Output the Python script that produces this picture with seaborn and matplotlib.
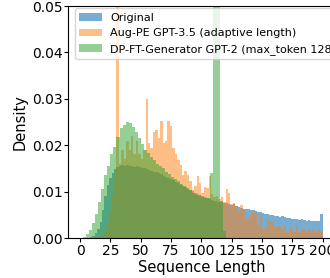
import numpy as np
import pandas as pd
import seaborn as sns
import matplotlib.pyplot as plt

# densidades (largura de bin em unidades de comprimento)
original_width = 2.0
original_density = [
    0, 0, 0, 0.0001, 0.0002, 0.0005, 0.001, 0.002, 0.0035, 0.006,
    0.009, 0.0115, 0.013, 0.014, 0.0148, 0.0153, 0.0156, 0.0157, 0.0156, 0.0157,
    0.0155, 0.0156, 0.0154, 0.0155, 0.0152, 0.0151, 0.015, 0.0148, 0.0147, 0.0145,
    0.0143, 0.0142, 0.014, 0.0137, 0.0134, 0.0132, 0.013, 0.0127, 0.0124, 0.0121,
    0.0118, 0.0115, 0.0112, 0.0109, 0.0106, 0.0104, 0.0101, 0.0098, 0.0095, 0.0092,
    0.009, 0.0088, 0.0086, 0.0084, 0.0082, 0.008, 0.0079, 0.0078, 0.0077, 0.0076,
    0.0075, 0.0073, 0.0072, 0.0073, 0.0068, 0.0066, 0.0064, 0.0063, 0.0062, 0.0062,
    0.006, 0.0061, 0.0058, 0.0056, 0.0057, 0.0054, 0.0052, 0.0052, 0.005, 0.0049,
    0.0048, 0.0048, 0.0046, 0.0047, 0.0045, 0.0044, 0.0044, 0.0042, 0.004, 0.0041,
    0.0039, 0.004, 0.0038, 0.0037, 0.0038, 0.0036, 0.0037, 0.0037, 0.0036, 0.0052,
]

augpe_width = 2.0
augpe_density = [
    0, 0, 0, 0, 0, 0, 0, 0.0001, 0.0003, 0.0007,
    0.0015, 0.003, 0.0055, 0.009, 0.013, 0.058, 0.016, 0.019, 0.017, 0.021,
    0.019, 0.022, 0.018, 0.021, 0.018, 0.017, 0.019, 0.030, 0.0205, 0.0195,
    0.0228, 0.0232, 0.0215, 0.0252, 0.0205, 0.021, 0.0252, 0.0242, 0.0195, 0.018,
    0.0169, 0.0158, 0.0136, 0.0145, 0.0136, 0.0123, 0.0104, 0.0112, 0.0134, 0.0118,
    0.0098, 0.011, 0.0107, 0.0134, 0.0095, 0.0088, 0.009, 0.0085, 0.0088, 0.0078,
    0.0106, 0.0097, 0.0073, 0.0075, 0.0068, 0.0055, 0.0071, 0.0062, 0.0041, 0.0043,
    0.005, 0.0057, 0.0053, 0.0027, 0.005, 0.0019, 0.0021, 0.004, 0.0035, 0.0035,
    0.0021, 0.0025, 0.0026, 0.0018, 0.0025, 0.0014, 0.0021, 0.0018, 0.0014, 0.0028,
    0.0014, 0.0021, 0.0018, 0.0014, 0.0021, 0.0015, 0.0017, 0.0014, 0.0018, 0.0012,
]

dpft_width = 2.5
dpft_density = [
    0.0001, 0.0003, 0.0008, 0.0017, 0.0032, 0.0052, 0.0078, 0.0105, 0.0135, 0.0155,
    0.018, 0.0196, 0.0218, 0.0236, 0.0244, 0.025, 0.0247, 0.024, 0.0228, 0.0215,
    0.0203, 0.019, 0.0183, 0.0175, 0.0169, 0.016, 0.0155, 0.015, 0.0143, 0.0138,
    0.0132, 0.0127, 0.0122, 0.0117, 0.0112, 0.0108, 0.0104, 0.0098, 0.0093, 0.009,
    0.0089, 0.0087, 0.0086, 0.014, 0.068, 0.066, 0.008, 0.0015,
]

labels = ["Original", "Aug-PE GPT-3.5 (adaptive length)", "DP-FT-Generator GPT-2 (max_token 128)"]
colors = ["tab:blue", "tab:orange", "tab:green"]
alphas = [0.6, 0.5, 0.5]
series = [
    (original_density, original_width),
    (augpe_density, augpe_width),
    (dpft_density, dpft_width),
]

plt.rcParams.update({
    "font.size": 10.5,
    "xtick.labelsize": 10,
    "ytick.labelsize": 10,
    "legend.fontsize": 8,
    "xtick.major.size": 3,
    "ytick.major.size": 3,
    "xtick.major.pad": 1.5,
    "ytick.major.pad": 1,
})

fig = plt.figure(figsize=(3.3, 2.78), dpi=100)
ax = fig.add_axes([68 / 330, 1 - 238 / 278, 266.7 / 330, 232 / 278])

for (dens, width), label, color, alpha in zip(series, labels, colors, alphas):
    edges = np.arange(len(dens) + 1) * width
    df = pd.DataFrame({"length": (edges[:-1] + edges[1:]) / 2, "density": dens})
    sns.histplot(data=df, x="length", weights="density", bins=list(edges), stat="count",
                 color=color, alpha=alpha, linewidth=0, label=label, ax=ax)

ax.set_xlim(-10, 210)
ax.set_ylim(0, 0.05)
ax.set_xticks(np.arange(0, 201, 25))
ax.set_yticks(np.arange(0, 0.051, 0.01))
ax.set_xlabel("Sequence Length", labelpad=1.5)
ax.set_ylabel("Density", labelpad=3)
ax.legend(loc="upper left", bbox_to_anchor=(0.026, 0.99), borderaxespad=0)

fig.savefig("out.png", dpi=100)
